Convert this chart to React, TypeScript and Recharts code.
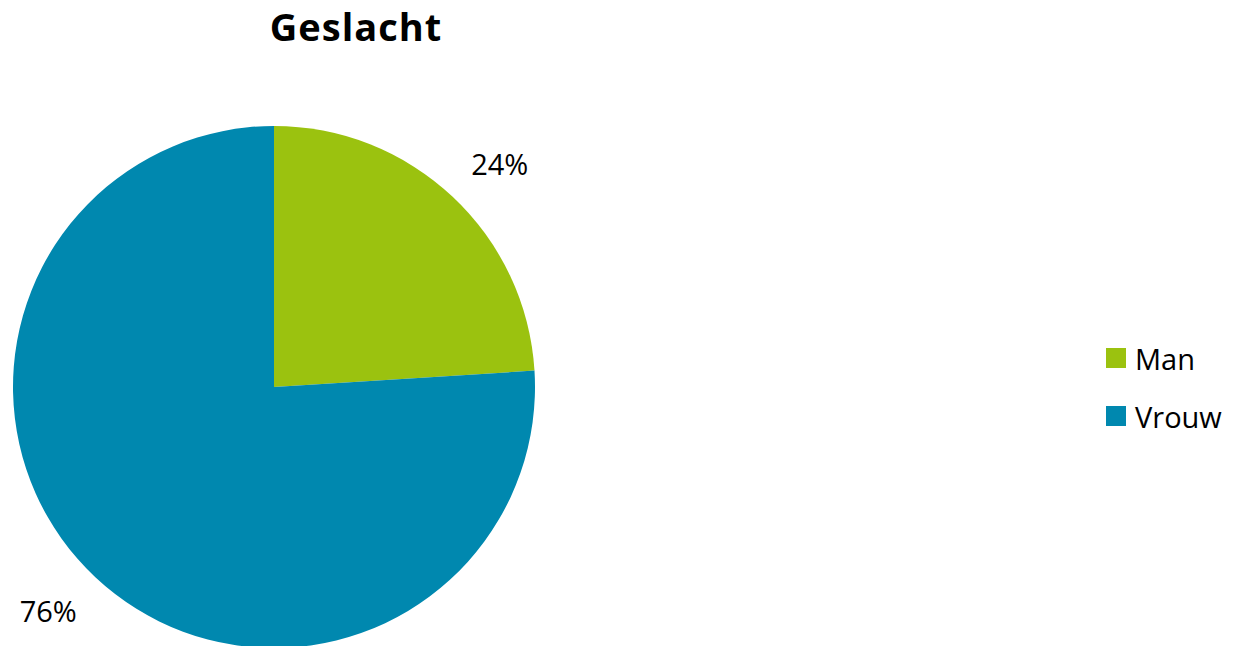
import React from "react";
import { PieChart, Pie, Cell, Legend } from "recharts";

const categories = ["Man", "Vrouw"];
const shares = [24, 76];
const colors = ["#9BC20F", "#0088AF"];

const data = categories.map((name, i) => ({ name, value: shares[i] }));

const RADIAN = Math.PI / 180;
const FONT = "'Open Sans', 'Noto Sans', sans-serif";

// label box sits just outside the pie, its nearest corner on the mid-angle ray
const renderLabel = (props: any) => {
  const { cx, cy, midAngle, outerRadius, value } = props;
  const r = outerRadius + 25;
  const cos = Math.cos(-midAngle * RADIAN);
  const sin = Math.sin(-midAngle * RADIAN);
  const x = cx + r * cos + Math.sign(cos) * 30;
  const y = cy + r * sin + Math.sign(sin) * 15;
  return (
    <text x={x} y={y} textAnchor="middle" dominantBaseline="central" fontSize={29} fill="#000" fontFamily={FONT}>
      {value}%
    </text>
  );
};

const renderLegend = () => (
  <div style={{ fontFamily: FONT }}>
    {categories.map((c, i) => (
      <div key={c} style={{ display: "flex", alignItems: "center", height: 58 }}>
        <span style={{ width: 20, height: 20, background: colors[i], display: "inline-block", marginRight: 9 }} />
        <span style={{ fontSize: 29, color: "#000" }}>{c}</span>
      </div>
    ))}
  </div>
);

export default function App() {
  return (
    <div style={{ position: "absolute", left: 0, top: 0, width: 1245, height: 646, background: "#fff", overflow: "hidden" }}>
      <div
        style={{
          position: "absolute",
          left: 156,
          width: 400,
          top: 0,
          textAlign: "center",
          fontFamily: FONT,
          fontWeight: 700,
          fontSize: 38,
          letterSpacing: 1,
          color: "#000",
        }}
      >
        Geslacht
      </div>
      <PieChart width={1245} height={646} margin={{ top: 0, right: 0, bottom: 0, left: 0 }}>
        <Pie
          data={data}
          dataKey="value"
          nameKey="name"
          cx={274}
          cy={387}
          outerRadius={261}
          startAngle={90}
          endAngle={-270}
          stroke="none"
          label={renderLabel}
          labelLine={false}
          isAnimationActive={false}
        >
          {data.map((d, i) => (
            <Cell key={d.name} fill={colors[i]} />
          ))}
        </Pie>
        <Legend
          content={renderLegend}
          layout="vertical"
          align="right"
          verticalAlign="top"
          wrapperStyle={{ left: 1106, top: 329, width: 139 }}
        />
      </PieChart>
    </div>
  );
}
